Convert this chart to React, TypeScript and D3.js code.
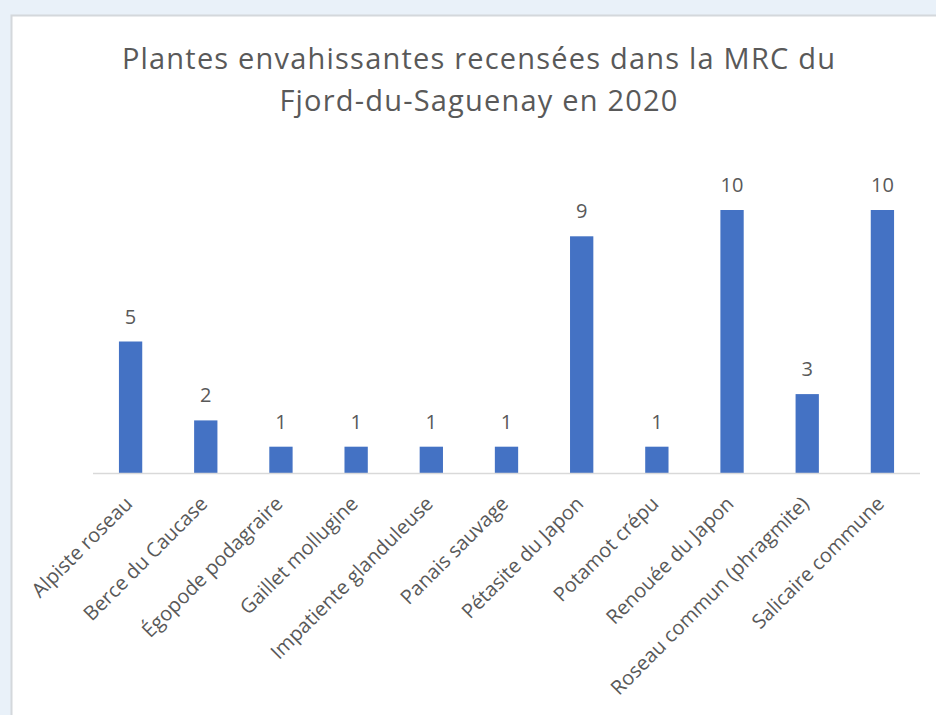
import { useEffect, useRef } from 'react';
import * as d3 from 'd3';

const categories = [
  'Alpiste roseau',
  'Berce du Caucase',
  'Égopode podagraire',
  'Gaillet mollugine',
  'Impatiente glanduleuse',
  'Panais sauvage',
  'Pétasite du Japon',
  'Potamot crépu',
  'Renouée du Japon',
  'Roseau commun (phragmite)',
  'Salicaire commune',
];
const counts = [5, 2, 1, 1, 1, 1, 9, 1, 10, 3, 10];
const titleLines = ['Plantes envahissantes recensées dans la MRC du', 'Fjord-du-Saguenay en 2020'];

const W = 936;
const H = 715;
const FONT = '"Open Sans", "Noto Sans", sans-serif';
const TEXT = '#595959';

export default function App() {
  const svgRef = useRef<SVGSVGElement>(null);

  useEffect(() => {
    if (!svgRef.current) return;
    const svg = d3.select(svgRef.current);
    svg.selectAll('*').remove();

    // page background + chart panel
    svg.append('rect').attr('width', W).attr('height', H).attr('fill', '#e9f1f9');
    svg.append('rect')
      .attr('x', 11.5).attr('y', 15.5)
      .attr('width', W + 10).attr('height', H + 10)
      .attr('fill', '#ffffff')
      .attr('stroke', '#d4d8dc')
      .attr('stroke-width', 2);

    // title
    const title = svg.append('text')
      .attr('text-anchor', 'middle')
      .attr('fill', TEXT)
      .attr('font-family', FONT)
      .attr('font-size', '29px')
      .attr('letter-spacing', '1.2px');
    titleLines.forEach((line, i) => {
      title.append('tspan').attr('x', 479).attr('y', 69 + i * 42).text(line);
    });

    const x = d3.scaleBand<string>()
      .domain(categories)
      .range([93, 920])
      .paddingInner(0.69)
      .paddingOuter(0.345);

    const y = d3.scaleLinear().domain([0, 10]).range([473, 210]);

    const g = svg.append('g');

    // bars
    g.selectAll('rect.bar')
      .data(categories)
      .join('rect')
      .attr('class', 'bar')
      .attr('x', d => x(d)!)
      .attr('width', x.bandwidth())
      .attr('y', (_, i) => y(counts[i]))
      .attr('height', (_, i) => y(0) - y(counts[i]))
      .attr('fill', '#4472c4');

    // axis line
    g.append('line')
      .attr('x1', 93).attr('x2', 920)
      .attr('y1', y(0) + 0.5).attr('y2', y(0) + 0.5)
      .attr('stroke', '#d9d9d9')
      .attr('stroke-width', 1.5);

    // data labels
    g.selectAll('text.val')
      .data(categories)
      .join('text')
      .attr('class', 'val')
      .attr('x', d => x(d)! + x.bandwidth() / 2)
      .attr('y', (_, i) => y(counts[i]) - 18)
      .attr('text-anchor', 'middle')
      .attr('fill', TEXT)
      .attr('font-family', FONT)
      .attr('font-size', '20px')
      .text((_, i) => counts[i]);

    // category labels, rotated
    g.selectAll('text.cat')
      .data(categories)
      .join('text')
      .attr('class', 'cat')
      .attr('transform', d => `translate(${x(d)! + x.bandwidth() / 2 + 3}, ${y(0) + 32}) rotate(-45)`)
      .attr('text-anchor', 'end')
      .attr('fill', TEXT)
      .attr('font-family', FONT)
      .attr('font-size', '20px')
      .text(d => d);
  }, []);

  return (
    <svg
      ref={svgRef}
      width={W}
      height={H}
      viewBox={`0 0 ${W} ${H}`}
      style={{ position: 'absolute', left: 0, top: 0, display: 'block' }}
    />
  );
}
